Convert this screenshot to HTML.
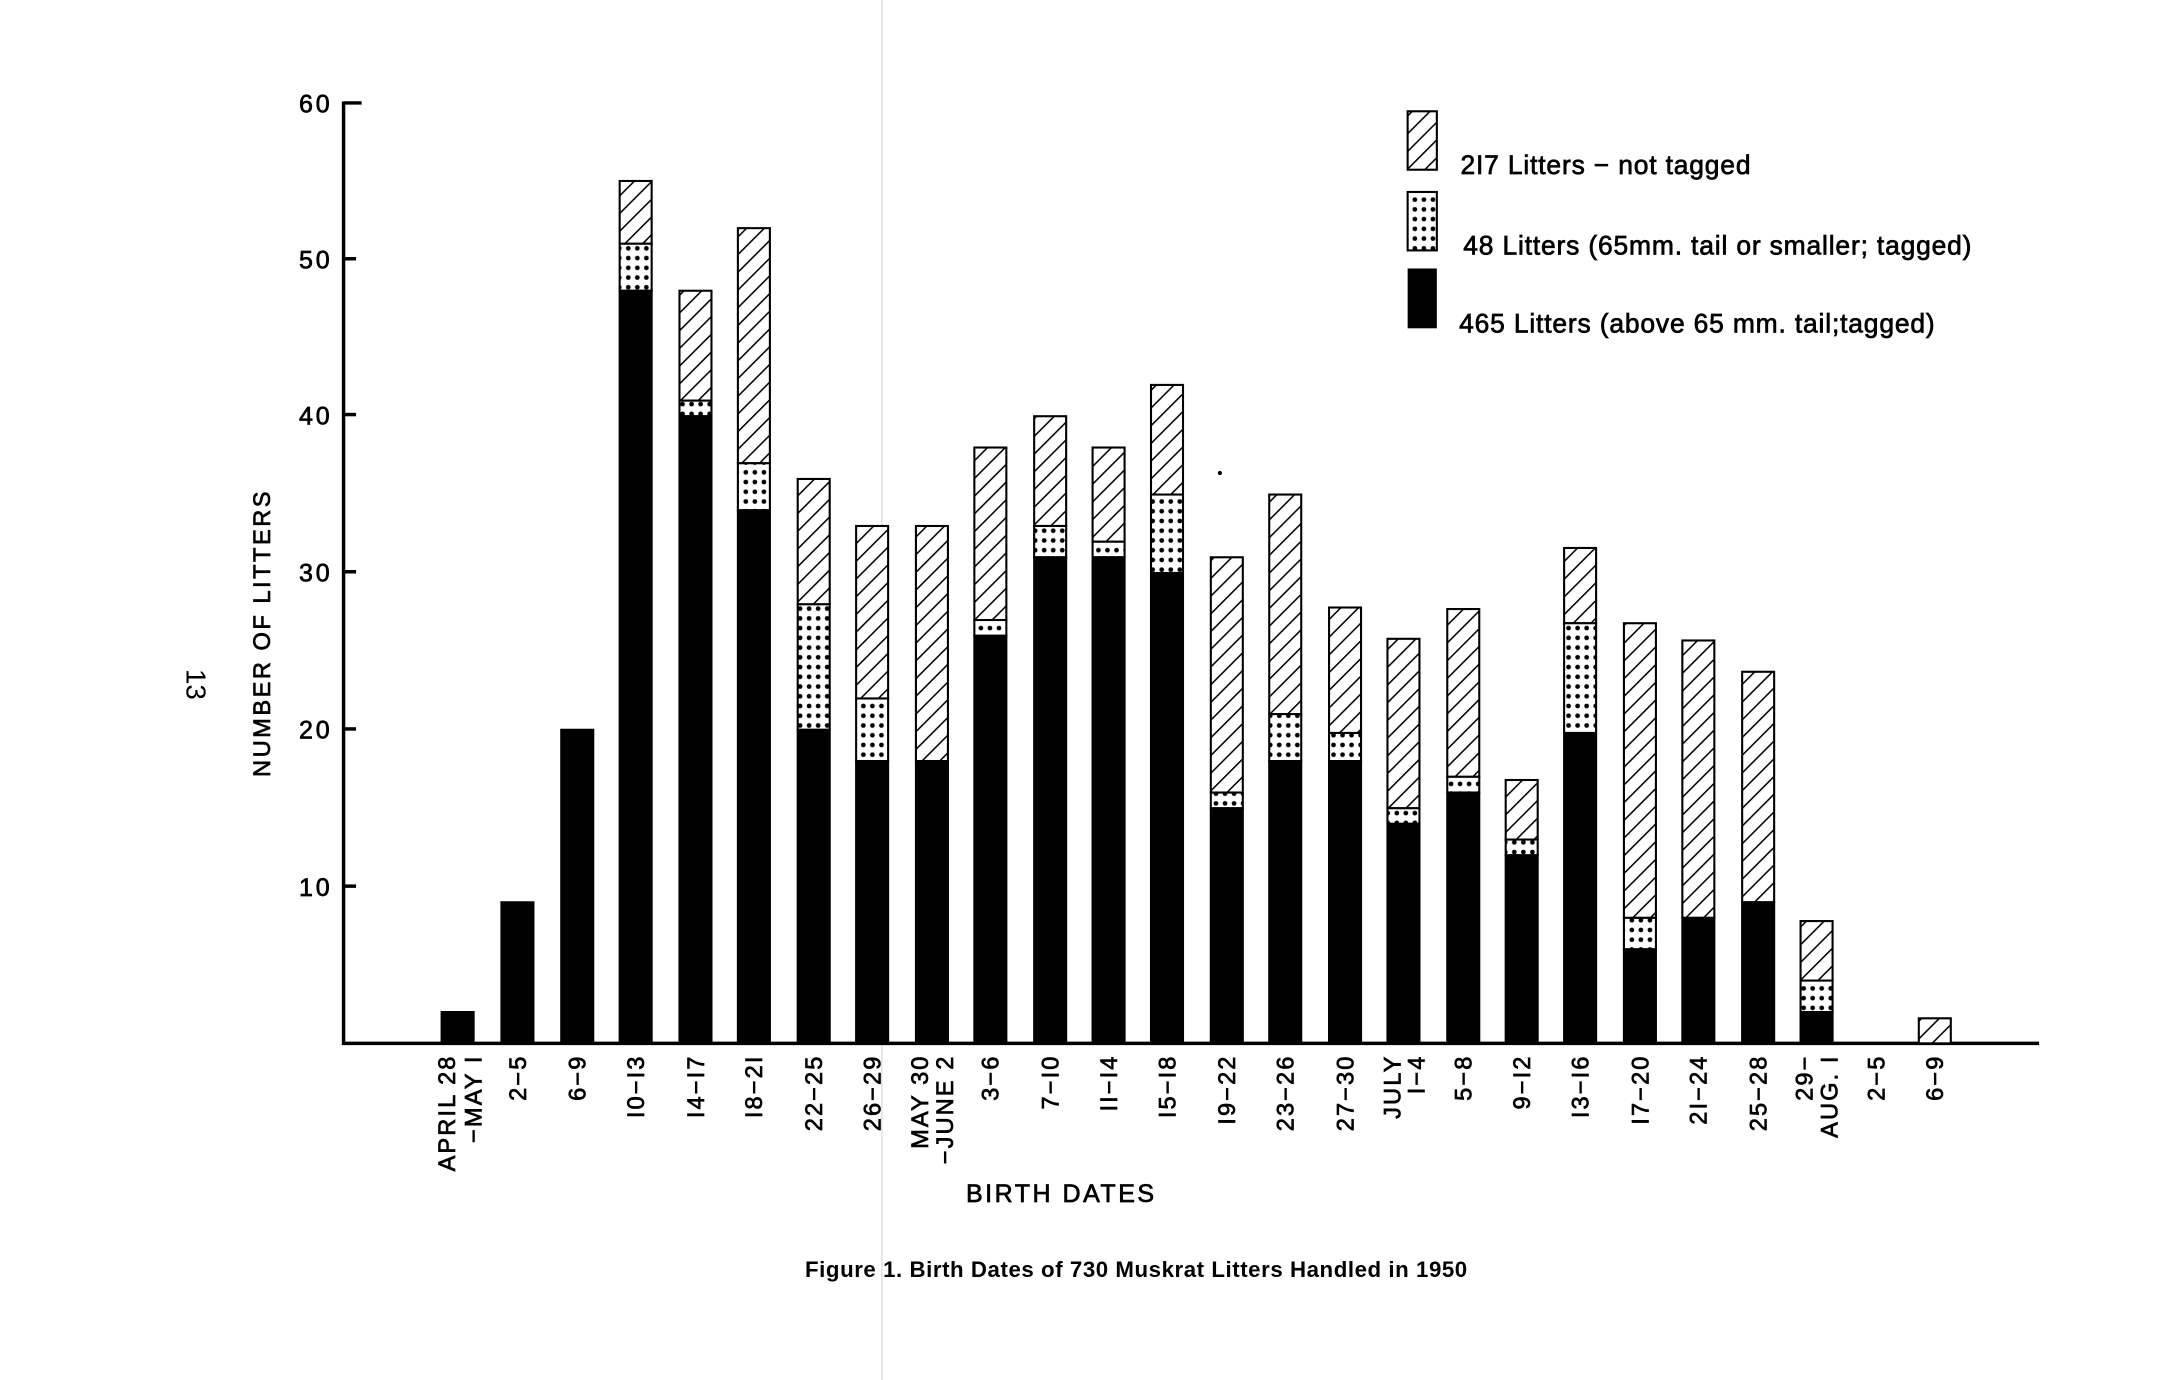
<!DOCTYPE html>
<html><head><meta charset="utf-8"><style>
html,body{margin:0;padding:0;background:#fff;}
svg{display:block;}
text{font-family:"Liberation Sans",sans-serif;fill:#000;}
.t{stroke:#000;stroke-width:0.5;}
</style></head><body>
<svg width="2181" height="1380" viewBox="0 0 1568 992" preserveAspectRatio="none" xmlns="http://www.w3.org/2000/svg">
<defs>
<pattern id="h" patternUnits="userSpaceOnUse" width="9" height="9" patternTransform="rotate(45)">
<rect width="9" height="9" fill="#fff"/><line x1="0" y1="0" x2="0" y2="9" stroke="#000" stroke-width="2.2"/></pattern>
<pattern id="d" patternUnits="userSpaceOnUse" width="6.5" height="7">
<rect width="6.5" height="7" fill="#fff"/><circle cx="3.2" cy="3.5" r="1.7" fill="#000"/></pattern>
</defs>
<rect width="1568" height="992" fill="#fff"/>
<line x1="634" y1="0" x2="634" y2="992" stroke="#ddd" stroke-width="1"/>
<line x1="247" y1="73" x2="247" y2="751" stroke="#000" stroke-width="2.5"/>
<line x1="246" y1="750" x2="1466" y2="750" stroke="#000" stroke-width="2.5"/>
<line x1="247" y1="74" x2="260" y2="74" stroke="#000" stroke-width="2.5"/>
<g stroke="#000" stroke-width="2.5">
<line x1="247" y1="186" x2="256" y2="186"/><line x1="247" y1="298" x2="256" y2="298"/>
<line x1="247" y1="411" x2="256" y2="411"/><line x1="247" y1="524" x2="256" y2="524"/>
<line x1="247" y1="637" x2="256" y2="637"/></g>
<g font-size="18" text-anchor="end" letter-spacing="2" class="t">
<text x="239" y="81">60</text><text x="239" y="193">50</text><text x="239" y="305">40</text>
<text x="239" y="418">30</text><text x="239" y="531">20</text><text x="239" y="644">10</text></g>
<text class="t" transform="translate(194,455) rotate(-90)" font-size="17" text-anchor="middle" letter-spacing="1.8">NUMBER OF LITTERS</text>
<text transform="translate(134,492) rotate(90)" font-size="20" font-family="Liberation Serif" text-anchor="middle">13</text>
<g stroke="#000" stroke-width="1.5">
<rect x="317.5" y="727.5" width="23" height="22.5" fill="#000"/>
<rect x="360.5" y="648.6" width="23" height="101.4" fill="#000"/>
<rect x="403.5" y="524.6" width="23" height="225.4" fill="#000"/>
<rect x="445.5" y="130.1" width="23" height="45.1" fill="url(#h)"/><rect x="445.5" y="175.2" width="23" height="33.8" fill="url(#d)"/><rect x="445.5" y="209" width="23" height="541" fill="#000"/>
<rect x="488.5" y="209" width="23" height="79" fill="url(#h)"/><rect x="488.5" y="288" width="23" height="11.2" fill="url(#d)"/><rect x="488.5" y="299.2" width="23" height="450.8" fill="#000"/>
<rect x="530.5" y="164" width="23" height="169" fill="url(#h)"/><rect x="530.5" y="333" width="23" height="33.8" fill="url(#d)"/><rect x="530.5" y="366.8" width="23" height="383.2" fill="#000"/>
<rect x="573.5" y="344.3" width="23" height="90.1" fill="url(#h)"/><rect x="573.5" y="434.4" width="23" height="90.2" fill="url(#d)"/><rect x="573.5" y="524.6" width="23" height="225.4" fill="#000"/>
<rect x="615.5" y="378.1" width="23" height="124" fill="url(#h)"/><rect x="615.5" y="502.1" width="23" height="45" fill="url(#d)"/><rect x="615.5" y="547.1" width="23" height="202.9" fill="#000"/>
<rect x="658.5" y="378.1" width="23" height="169" fill="url(#h)"/><rect x="658.5" y="547.1" width="23" height="202.9" fill="#000"/>
<rect x="700.5" y="321.7" width="23" height="124" fill="url(#h)"/><rect x="700.5" y="445.7" width="23" height="11.3" fill="url(#d)"/><rect x="700.5" y="457" width="23" height="293" fill="#000"/>
<rect x="743.5" y="299.2" width="23" height="78.9" fill="url(#h)"/><rect x="743.5" y="378.1" width="23" height="22.5" fill="url(#d)"/><rect x="743.5" y="400.6" width="23" height="349.4" fill="#000"/>
<rect x="785.5" y="321.7" width="23" height="67.7" fill="url(#h)"/><rect x="785.5" y="389.4" width="23" height="11.2" fill="url(#d)"/><rect x="785.5" y="400.6" width="23" height="349.4" fill="#000"/>
<rect x="827.5" y="276.7" width="23" height="78.8" fill="url(#h)"/><rect x="827.5" y="355.5" width="23" height="56.4" fill="url(#d)"/><rect x="827.5" y="411.9" width="23" height="338.1" fill="#000"/>
<rect x="870.5" y="400.6" width="23" height="169.1" fill="url(#h)"/><rect x="870.5" y="569.7" width="23" height="11.3" fill="url(#d)"/><rect x="870.5" y="581" width="23" height="169" fill="#000"/>
<rect x="912.5" y="355.5" width="23" height="157.8" fill="url(#h)"/><rect x="912.5" y="513.3" width="23" height="33.8" fill="url(#d)"/><rect x="912.5" y="547.1" width="23" height="202.9" fill="#000"/>
<rect x="955.5" y="436.7" width="23" height="90.2" fill="url(#h)"/><rect x="955.5" y="526.9" width="23" height="20.2" fill="url(#d)"/><rect x="955.5" y="547.1" width="23" height="202.9" fill="#000"/>
<rect x="997.5" y="459.2" width="23" height="121.8" fill="url(#h)"/><rect x="997.5" y="581" width="23" height="11.2" fill="url(#d)"/><rect x="997.5" y="592.2" width="23" height="157.8" fill="#000"/>
<rect x="1040.5" y="437.8" width="23" height="120.6" fill="url(#h)"/><rect x="1040.5" y="558.4" width="23" height="11.3" fill="url(#d)"/><rect x="1040.5" y="569.7" width="23" height="180.3" fill="#000"/>
<rect x="1082.5" y="560.7" width="23" height="42.8" fill="url(#h)"/><rect x="1082.5" y="603.5" width="23" height="11.3" fill="url(#d)"/><rect x="1082.5" y="614.8" width="23" height="135.2" fill="#000"/>
<rect x="1124.5" y="393.9" width="23" height="54.1" fill="url(#h)"/><rect x="1124.5" y="448" width="23" height="78.9" fill="url(#d)"/><rect x="1124.5" y="526.9" width="23" height="223.1" fill="#000"/>
<rect x="1167.5" y="448" width="23" height="211.8" fill="url(#h)"/><rect x="1167.5" y="659.8" width="23" height="22.6" fill="url(#d)"/><rect x="1167.5" y="682.4" width="23" height="67.6" fill="#000"/>
<rect x="1209.5" y="460.4" width="23" height="199.4" fill="url(#h)"/><rect x="1209.5" y="659.8" width="23" height="90.2" fill="#000"/>
<rect x="1252.5" y="482.9" width="23" height="165.7" fill="url(#h)"/><rect x="1252.5" y="648.6" width="23" height="101.4" fill="#000"/>
<rect x="1294.5" y="662.1" width="23" height="42.8" fill="url(#h)"/><rect x="1294.5" y="704.9" width="23" height="22.6" fill="url(#d)"/><rect x="1294.5" y="727.5" width="23" height="22.5" fill="#000"/>
<rect x="1379.5" y="732" width="23" height="18" fill="url(#h)"/>
</g>
<g font-size="17" text-anchor="end" letter-spacing="1.5" class="t">
<text transform="translate(327,758) rotate(-90)">APRIL 28</text>
<text transform="translate(346,758) rotate(-90)">−MAY I</text>
<text transform="translate(378,758) rotate(-90)">2−5</text>
<text transform="translate(421,758) rotate(-90)">6−9</text>
<text transform="translate(463,758) rotate(-90)">I0−I3</text>
<text transform="translate(506,758) rotate(-90)">I4−I7</text>
<text transform="translate(548,758) rotate(-90)">I8−2I</text>
<text transform="translate(591,758) rotate(-90)">22−25</text>
<text transform="translate(633,758) rotate(-90)">26−29</text>
<text transform="translate(667,758) rotate(-90)">MAY 30</text>
<text transform="translate(685,758) rotate(-90)">−JUNE 2</text>
<text transform="translate(718,758) rotate(-90)">3−6</text>
<text transform="translate(761,758) rotate(-90)">7−I0</text>
<text transform="translate(803,758) rotate(-90)">II−I4</text>
<text transform="translate(845,758) rotate(-90)">I5−I8</text>
<text transform="translate(888,758) rotate(-90)">I9−22</text>
<text transform="translate(930,758) rotate(-90)">23−26</text>
<text transform="translate(973,758) rotate(-90)">27−30</text>
<text transform="translate(1007,758) rotate(-90)">JULY</text>
<text transform="translate(1024,758) rotate(-90)">I−4</text>
<text transform="translate(1058,758) rotate(-90)">5−8</text>
<text transform="translate(1100,758) rotate(-90)">9−I2</text>
<text transform="translate(1142,758) rotate(-90)">I3−I6</text>
<text transform="translate(1185,758) rotate(-90)">I7−20</text>
<text transform="translate(1227,758) rotate(-90)">2I−24</text>
<text transform="translate(1270,758) rotate(-90)">25−28</text>
<text transform="translate(1303,758) rotate(-90)">29−</text>
<text transform="translate(1321,758) rotate(-90)">AUG. I</text>
<text transform="translate(1355,758) rotate(-90)">2−5</text>
<text transform="translate(1397,758) rotate(-90)">6−9</text>
</g>
<text class="t" x="763" y="864" font-size="18" text-anchor="middle" letter-spacing="1.8">BIRTH DATES</text>
<text x="817" y="918" font-size="16" font-weight="bold" text-anchor="middle" letter-spacing="0.4">Figure 1.  Birth Dates of 730 Muskrat Litters Handled in 1950</text>
<rect x="1012" y="80" width="21" height="42" fill="url(#h)" stroke="#000" stroke-width="1.5"/>
<rect x="1012" y="138" width="21" height="42" fill="url(#d)" stroke="#000" stroke-width="1.5"/>
<rect x="1012" y="193" width="21" height="43" fill="#000"/>
<g font-size="19" class="t" letter-spacing="0.6">
<text x="1050" y="125">2I7 Litters − not tagged</text>
<text x="1052" y="183">48 Litters (65mm. tail or smaller; tagged)</text>
<text x="1049" y="239">465 Litters (above 65 mm. tail;tagged)</text>
</g>
<circle cx="877" cy="340" r="1.5" fill="#000"/>
</svg>
</body></html>
